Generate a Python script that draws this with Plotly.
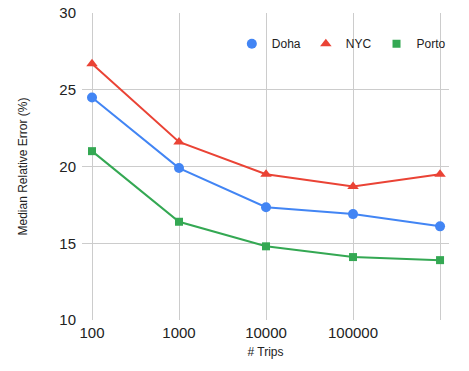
import plotly.graph_objects as go

trips = ["100", "1000", "10000", "100000", "1000000"]
tick_labels = ["100", "1000", "10000", "100000", ""]
doha = [24.5, 19.9, 17.35, 16.9, 16.1]
nyc = [26.7, 21.6, 19.5, 18.7, 19.5]
porto = [21.0, 16.4, 14.8, 14.1, 13.9]

series = [
    ("Doha", doha, "#4285F4", "circle", 10),
    ("NYC", nyc, "#EA4335", "triangle-up", 10),
    ("Porto", porto, "#34A853", "square", 8),
]

fig = go.Figure()
for name, vals, color, sym, size in series:
    fig.add_trace(go.Scatter(x=trips, y=vals, name=name, mode="lines", showlegend=False,
                             line=dict(color=color, width=2), hoverinfo="skip"))
for name, vals, color, sym, size in series:
    fig.add_trace(go.Scatter(x=trips, y=vals, name=name, mode="markers",
                             marker=dict(symbol=sym, size=size, color=color)))

fig.update_layout(
    width=469, height=371,
    margin=dict(l=82, r=20, t=13, b=51, autoexpand=False),
    paper_bgcolor="white", plot_bgcolor="white",
    font=dict(family="Liberation Sans, Arial, sans-serif", color="#222222"),
    showlegend=True,
    legend=dict(orientation="h", x=1.005, xanchor="right", y=0.9, yanchor="middle",
                font=dict(size=12, color="#222222"), bgcolor="rgba(0,0,0,0)",
                itemwidth=30),
    xaxis=dict(type="category", range=[-0.115, 4.103], tickvals=trips, ticktext=tick_labels,
               showgrid=True, gridcolor="#cccccc", gridwidth=1, zeroline=False,
               showline=False, ticks="", ticklabelstandoff=2,
               tickfont=dict(size=15, color="#222222"),
               title=dict(text="# Trips", font=dict(size=12, color="#222222"), standoff=7)),
    yaxis=dict(range=[10, 30], tickvals=[10, 15, 20, 25, 30],
               showgrid=True, gridcolor="#cccccc", gridwidth=1, zeroline=False,
               showline=False, ticks="", ticklabelstandoff=5, ticklabeloverflow="allow",
               tickfont=dict(size=15, color="#222222"),
               title=dict(text="Median Relative Error (%)", font=dict(size=12, color="#222222"), standoff=29)),
)
fig.write_html("out.html", config={"displayModeBar": False},
               post_script="document.body.style.margin='0';")
